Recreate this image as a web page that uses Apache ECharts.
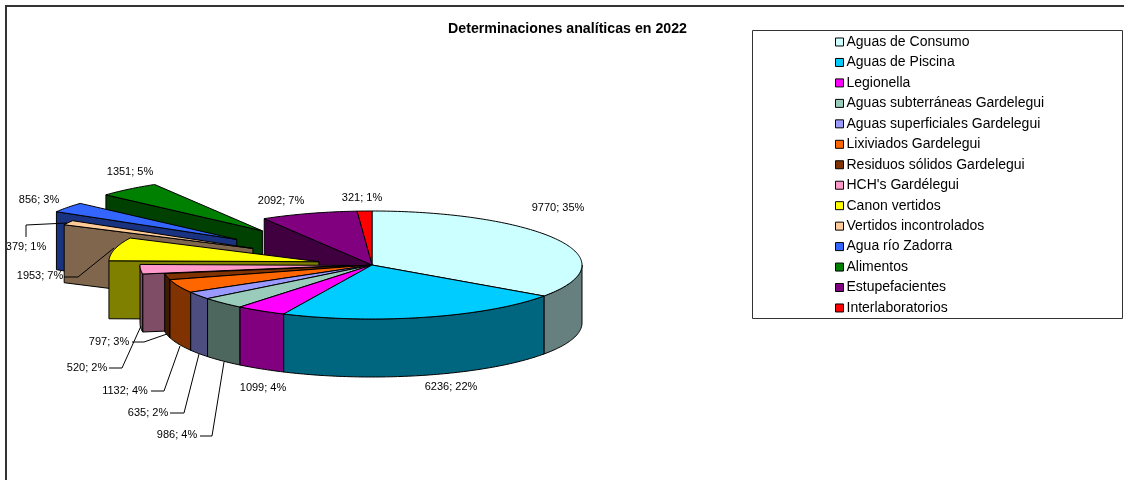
<!DOCTYPE html>
<html>
<head>
<meta charset="utf-8">
<style>
  html, body { margin: 0; padding: 0; background: #fff; }
  #chart { width: 1124px; height: 480px; }
</style>
<script src="https://cdn.jsdelivr.net/npm/echarts@6/dist/echarts.min.js"></script>
</head>
<body>
<div id="chart"></div>
<script>
const categories = [
  'Aguas de Consumo', 'Aguas de Piscina', 'Legionella', 'Aguas subterráneas Gardelegui',
  'Aguas superficiales Gardelegui', 'Lixiviados Gardelegui', 'Residuos sólidos Gardelegui',
  "HCH's Gardélegui", 'Canon vertidos', 'Vertidos incontrolados', 'Agua río Zadorra',
  'Alimentos', 'Estupefacientes', 'Interlaboratorios'
];
const values = [9770, 6236, 1099, 986, 635, 1132, 520, 797, 1953, 379, 856, 1351, 2092, 321];
const sliceColors = [
  '#ccffff', '#00ccff', '#ff00ff', '#99ccbb', '#9999ff', '#ff6600', '#803300',
  '#ff99cc', '#ffff00', '#ffcc99', '#3366ff', '#008000', '#800080', '#ff0000'
];
const explode = [0, 0, 0, 0, 0, 0, 0, 0.105, 0.26, 0.645, 0.8, 0.82, 0, 0];
// back to front, the pie has no real depth sorting
const drawOrder = [0, 13, 12, 11, 10, 9, 8, 7, 6, 5, 4, 3, 2, 1];

// label centres, same order as values
const labelPos = [
  [558, 208], [451, 387], [263, 388], [177, 435], [148, 413], [125, 391], [87, 368],
  [109, 342], [40, 276], [26, 247], [39, 200], [130, 172], [281, 201], [362, 198]
];
const leaders = [
  [[200, 436], [212, 436], [224, 362]],
  [[170, 413], [184, 413], [199, 354]],
  [[151, 391], [164, 391], [180, 346]],
  [[109, 368], [122, 368], [141, 326]],
  [[132, 342], [144, 342], [167, 334]],
  [[64, 277], [78, 277], [114, 248]],
  [[26, 237], [26, 225], [67, 223]]
];

const FONT = 'Arial, "Liberation Sans", sans-serif';
const cx = 372, cy = 265, rx = 210, ry = 54, depth = 58;
const total = values.reduce((a, b) => a + b, 0);

function pt(x0, y0, deg) {
  const a = deg * Math.PI / 180;
  return [x0 + rx * Math.sin(a), y0 - ry * Math.cos(a)];
}

function arc(x0, y0, from, to) {
  const pts = [];
  for (let d = from; d < to; d += 1) pts.push(pt(x0, y0, d));
  pts.push(pt(x0, y0, to));
  return pts;
}

function darker(hex) {
  const n = parseInt(hex.slice(1), 16);
  const c = [(n >> 16) & 255, (n >> 8) & 255, n & 255].map(v => Math.round(v / 2));
  return `rgb(${c[0]},${c[1]},${c[2]})`;
}

function poly(points, fill) {
  return {
    type: 'polygon',
    shape: { points },
    style: { fill, stroke: '#000', lineWidth: 1 }
  };
}

function down(points) {
  return points.map(p => [p[0], p[1] + depth]).reverse();
}

function renderSlice(idx, api) {
  const before = values.slice(0, idx).reduce((a, b) => a + b, 0);
  const start = before / total * 360;
  const end = start + api.value(0) / total * 360;
  const mid = (start + end) / 2;
  const x0 = cx + explode[idx] * (pt(0, 0, mid)[0]);
  const y0 = cy + explode[idx] * (pt(0, 0, mid)[1]);
  const top = sliceColors[idx];
  const side = darker(top);
  const children = [];

  // cut faces, only the ones turned toward the viewer
  if (start > 180) {
    const edge = [[x0, y0], pt(x0, y0, start)];
    children.push(poly(edge.concat(down(edge)), side));
  }
  if (end < 180) {
    const edge = [[x0, y0], pt(x0, y0, end)];
    children.push(poly(edge.concat(down(edge)), side));
  }
  // outer wall, front half of the ellipse
  const wallFrom = Math.max(start, 90);
  const wallTo = Math.min(end, 270);
  if (wallTo > wallFrom) {
    const rim = arc(x0, y0, wallFrom, wallTo);
    children.push(poly(rim.concat(down(rim)), side));
  }
  children.push(poly([[x0, y0]].concat(arc(x0, y0, start, end)), top));
  return { type: 'group', children };
}

const series = drawOrder.map((idx, order) => ({
  type: 'custom',
  name: categories[idx],
  coordinateSystem: 'none',
  z: 2 + order,
  silent: true,
  itemStyle: { color: sliceColors[idx] },
  data: [[values[idx]]],
  renderItem: (params, api) => renderSlice(idx, api)
}));

const labelTexts = values.map((v, i) => ({
  type: 'text',
  z: 60,
  x: labelPos[i][0],
  y: labelPos[i][1],
  style: {
    text: `${v}; ${Math.round(v / total * 100)}%`,
    font: `11px ${FONT}`,
    fill: '#000',
    align: 'center',
    verticalAlign: 'middle'
  }
}));

const leaderLines = leaders.map(points => ({
  type: 'polyline',
  z: 60,
  shape: { points },
  style: { stroke: '#000', lineWidth: 1, fill: null }
}));

const chart = echarts.init(document.getElementById('chart'), null, { renderer: 'canvas' });
chart.setOption({
  animation: false,
  backgroundColor: '#fff',
  title: {
    text: 'Determinaciones analíticas en 2022',
    left: 562.5,
    top: 17,
    textAlign: 'center',
    textStyle: { fontFamily: FONT, fontSize: 14.2, fontWeight: 'bold', color: '#000' }
  },
  legend: {
    data: categories,
    orient: 'vertical',
    left: 835,
    top: 34.5,
    padding: 0,
    icon: 'rect',
    itemWidth: 8,
    itemHeight: 8,
    itemGap: 5.46,
    selectedMode: false,
    itemStyle: { borderColor: '#000', borderWidth: 1 },
    textStyle: {
      fontFamily: FONT,
      fontSize: 14,
      color: '#000',
      height: 15,
      lineHeight: 15,
      padding: [0, 0, 0, -2]
    }
  },
  graphic: [
    {
      type: 'polyline',
      z: 70,
      shape: { points: [[6, 480], [6, 6], [1124, 6]] },
      style: { stroke: '#333', lineWidth: 2, fill: null }
    },
    {
      type: 'rect',
      z: 1,
      shape: { x: 752.5, y: 30.5, width: 370, height: 288 },
      style: { stroke: '#333', lineWidth: 1, fill: null }
    }
  ].concat(leaderLines, labelTexts),
  series
});
</script>
</body>
</html>
